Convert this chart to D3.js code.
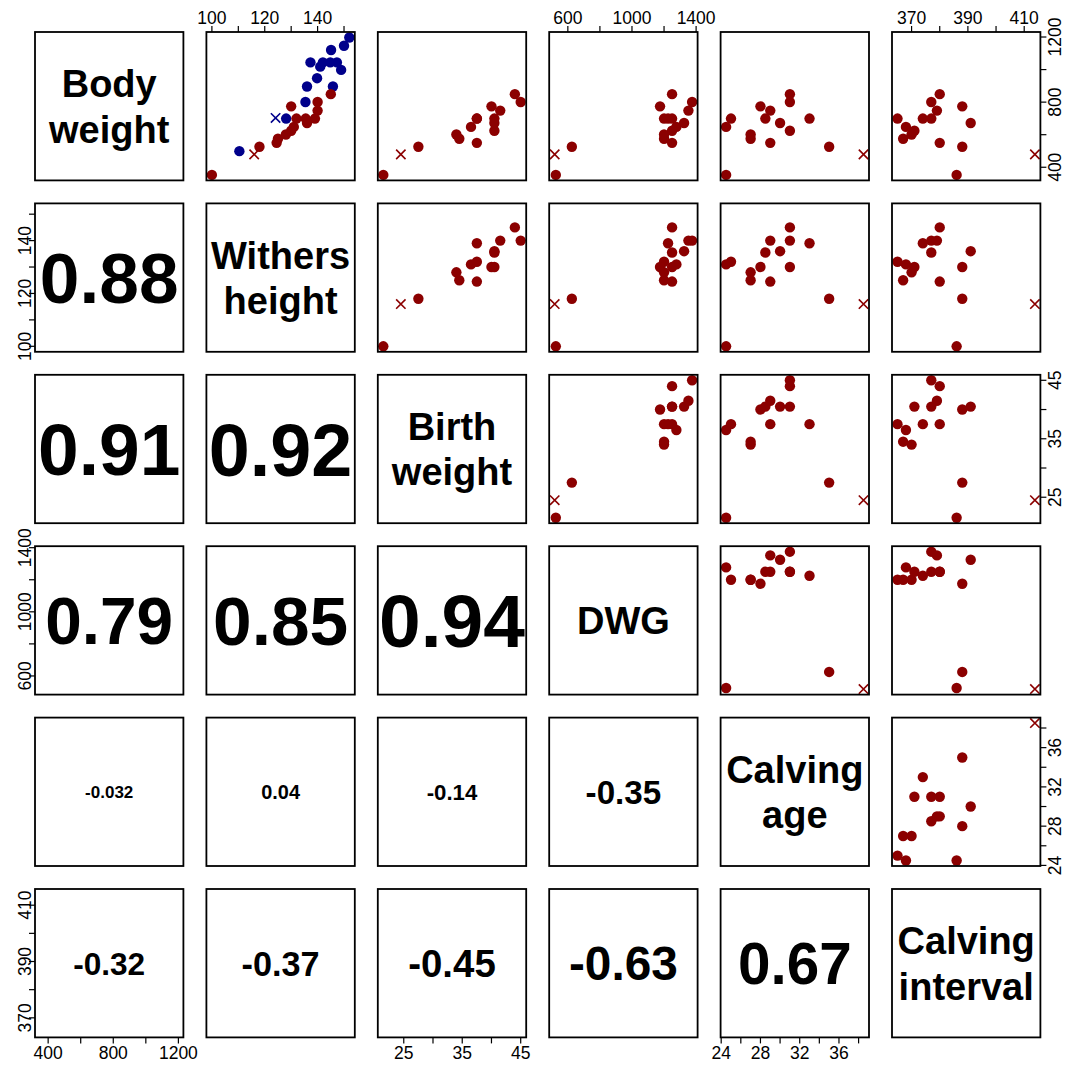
<!DOCTYPE html>
<html>
<head>
<meta charset="utf-8">
<script src="https://cdn.jsdelivr.net/npm/d3@7"></script>
<style>
  body { margin: 0; background: #ffffff; }
  svg text { font-family: "Liberation Sans", Arial, Helvetica, sans-serif; fill: #000; }
</style>
</head>
<body>
<svg id="chart" width="1069" height="1066"></svg>
<script>
// ---- variables (diagonal labels, split over lines) ----
const variableNames = ["Body weight", "Withers height", "Birth weight", "DWG", "Calving age", "Calving interval"];
const variableLines = [["Body", "weight"], ["Withers", "height"], ["Birth", "weight"], ["DWG"], ["Calving", "age"], ["Calving", "interval"]];

// ---- one record per animal ----
const bodyWeight      = [353, 526, 550, 575, 601, 624, 648, 672, 699, 699, 699, 748, 774, 801, 849, 479];
const withersHeight   = [100, 118, 124.5, 125, 128, 130, 131, 136, 132, 139, 135.5, 140, 130, 140, 145, 116];
const birthWeight     = [21.5, 27.5, 37.5, 34.5, 34, 40.5, 36.5, 40.5, 37.5, 37.5, 40.5, 41.5, 40, 45, 44, 24.5];
const dailyGain       = [525, 625, 1250, 1200, 1200, 1250, 1277, 1325, 1200, 1225, 1250, 1352, 1175, 1375, 1250, 518];
const calvingAge      = [24.5, 35, 29, 27, 27, 31, 24.5, 30, 25, 33, 28.5, 29, 28, 31, 31, 38.5];
const calvingInterval = [386, 388, 380, 367, 370, 371, 368, 391, 365, 374, 377, 379, 388, 377, 380, 413.8];
const recordShape     = ["dot","dot","dot","dot","dot","dot","dot","dot","dot","dot","dot","dot","dot","dot","dot","cross"];

// ---- second group, body weight against withers height only ----
const groupBWithersHeight = [110.4, 124.1, 128.1, 135.4, 136, 139.8, 145.8, 137.3, 141, 142, 144.8, 147.3, 148.9, 145.1, 150, 152];
const groupBBodyWeight    = [499, 703, 699, 801, 896, 947, 896, 1044, 1018, 1044, 1044, 1044, 998, 1120, 1146, 1197];
const groupBShape         = ["dot","cross","dot","dot","dot","dot","dot","dot","dot","dot","dot","dot","dot","dot","dot","dot"];

// ---- pairwise correlations, lower triangle, row by row ----
const correlationValues = [0.88, 0.91, 0.92, 0.79, 0.85, 0.94, -0.032, 0.04, -0.14, -0.35, -0.32, -0.37, -0.45, -0.63, 0.67];
const correlationLabels = ["0.88", "0.91", "0.92", "0.79", "0.85", "0.94", "-0.032", "0.04", "-0.14", "-0.35", "-0.32", "-0.37", "-0.45", "-0.63", "0.67"];

// ---- axis ticks and the subset of ticks that carry labels ----
const ticksBodyWeight = [400, 600, 800, 1000, 1200];      const labelsBodyWeight = [400, 800, 1200];
const ticksWithers    = [100, 110, 120, 130, 140, 150];   const labelsWithers    = [100, 120, 140];
const ticksBirth      = [25, 30, 35, 40, 45];             const labelsBirth      = [25, 35, 45];
const ticksGain       = [600, 800, 1000, 1200, 1400];     const labelsGain       = [600, 1000, 1400];
const ticksAge        = [24, 26, 28, 30, 32, 34, 36, 38]; const labelsAge        = [24, 28, 32, 36];
const ticksInterval   = [370, 380, 390, 400, 410];        const labelsInterval   = [370, 390, 410];

const columns = [bodyWeight, withersHeight, birthWeight, dailyGain, calvingAge, calvingInterval];
const tickSets = [ticksBodyWeight, ticksWithers, ticksBirth, ticksGain, ticksAge, ticksInterval];
const labelSets = [labelsBodyWeight, labelsWithers, labelsBirth, labelsGain, labelsAge, labelsInterval];

// ---- layout ----
const originX = 35, originY = 32;
const cell = 148.4, step = 171.4;
const n = variableNames.length;
const pointColor = "#8b0000", groupBColor = "#00008b";
const dotRadius = 5.2, crossHalf = 4.7;
const tickLen = 6, tickFont = 17.5;
const labelFont = 38, labelLineGap = 45.5;

const svg = d3.select("#chart");
svg.append("rect").attr("width", 1069).attr("height", 1066).attr("fill", "#fff");

// ranges padded by 4% on both sides, as in a base-graphics scatterplot matrix
const extents = columns.map((col, i) => {
  let vals = col.slice();
  if (i === 0) vals = vals.concat(groupBBodyWeight);
  if (i === 1) vals = vals.concat(groupBWithersHeight);
  const [a, b] = d3.extent(vals);
  const pad = (b - a) * 0.04;
  return [a - pad, b + pad];
});
const xScales = extents.map(e => d3.scaleLinear().domain(e).range([0, cell]));
const yScales = extents.map(e => d3.scaleLinear().domain(e).range([cell, 0]));

for (let i = 0; i < n; i++) {
  for (let j = 0; j < n; j++) {
    const g = svg.append("g")
      .attr("transform", `translate(${originX + j * step},${originY + i * step})`);

    if (i < j) {
      // upper triangle: scatter of row variable against column variable
      const xS = xScales[j], yS = yScales[i];
      const sets = [];
      if (i === 0 && j === 1) {
        sets.push({ xv: groupBWithersHeight, yv: groupBBodyWeight, sh: groupBShape, c: groupBColor });
      }
      sets.push({ xv: columns[j], yv: columns[i], sh: recordShape, c: pointColor });
      sets.forEach(set => {
        const pts = set.xv.map((v, k) => ({ px: xS(v), py: yS(set.yv[k]), s: set.sh[k] }));
        g.selectAll(null).data(pts.filter(p => p.s === "dot")).join("circle")
          .attr("cx", p => p.px).attr("cy", p => p.py).attr("r", dotRadius)
          .attr("fill", set.c);
        g.selectAll(null).data(pts.filter(p => p.s === "cross")).join("path")
          .attr("d", p => `M${p.px - crossHalf},${p.py - crossHalf}L${p.px + crossHalf},${p.py + crossHalf}` +
                          `M${p.px - crossHalf},${p.py + crossHalf}L${p.px + crossHalf},${p.py - crossHalf}`)
          .attr("stroke", set.c).attr("stroke-width", 1.6).attr("fill", "none");
      });
    } else if (i === j) {
      // diagonal: variable name
      const lines = variableLines[i];
      const firstBase = cell / 2 + 0.36 * labelFont - (lines.length - 1) * labelLineGap / 2;
      lines.forEach((t, k) => {
        g.append("text").attr("x", cell / 2).attr("y", firstBase + k * labelLineGap)
          .attr("text-anchor", "middle").attr("font-weight", "bold")
          .attr("font-size", labelFont).text(t);
      });
    } else {
      // lower triangle: correlation, sized by its magnitude
      const idx = i * (i - 1) / 2 + j;
      const r = correlationValues[idx];
      const t = g.append("text").attr("x", cell / 2).attr("text-anchor", "middle")
        .attr("font-weight", "bold").attr("font-size", 100).text(correlationLabels[idx]);
      const em = t.node().getComputedTextLength() / 100;
      const fs = Math.max(17, (34 + 119 * Math.abs(r)) / em);
      t.attr("font-size", fs).attr("y", cell / 2 + 0.36 * fs);
    }

    g.append("rect").attr("width", cell).attr("height", cell)
      .attr("fill", "none").attr("stroke", "#000").attr("stroke-width", 1.8);
  }
}

// ---- outer axes, alternating sides ----
const tickStyle = sel => sel.attr("stroke", "#000").attr("stroke-width", 1.2);
for (let j = 0; j < n; j++) {
  const x0 = originX + j * step;
  const onTop = j % 2 === 1;
  const yEdge = onTop ? originY : originY + (n - 1) * step + cell;
  const g = svg.append("g").attr("transform", `translate(${x0},${yEdge})`);
  const dir = onTop ? -1 : 1;
  g.selectAll("line").data(tickSets[j]).join("line")
    .attr("x1", d => xScales[j](d)).attr("x2", d => xScales[j](d))
    .attr("y1", 0).attr("y2", dir * tickLen).call(tickStyle);
  g.selectAll("text").data(labelSets[j]).join("text")
    .attr("x", d => xScales[j](d)).attr("y", onTop ? -8.5 : 22)
    .attr("text-anchor", "middle").attr("font-size", tickFont).text(d => d);
}
for (let i = 0; i < n; i++) {
  const y0 = originY + i * step;
  const onLeft = i % 2 === 1;
  const xEdge = onLeft ? originX : originX + (n - 1) * step + cell;
  const g = svg.append("g").attr("transform", `translate(${xEdge},${y0})`);
  const dir = onLeft ? -1 : 1;
  g.selectAll("line").data(tickSets[i]).join("line")
    .attr("y1", d => yScales[i](d)).attr("y2", d => yScales[i](d))
    .attr("x1", 0).attr("x2", dir * tickLen).call(tickStyle);
  g.selectAll("text").data(labelSets[i]).join("text")
    .attr("transform", d => `translate(${onLeft ? -4 : 20.5},${yScales[i](d)}) rotate(-90)`)
    .attr("text-anchor", "middle").attr("font-size", tickFont).text(d => d);
}
</script>
</body>
</html>
